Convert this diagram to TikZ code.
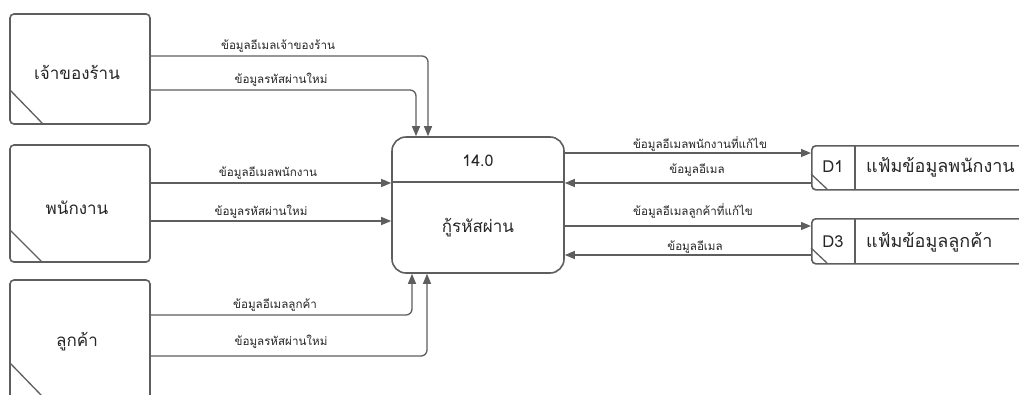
\documentclass[tikz,border=0pt]{standalone}
\usepackage{fontspec}
\setmainfont[Script=Thai]{Loma}
\usetikzlibrary{arrows.meta,calc}
\definecolor{ln}{HTML}{5E5E5E}
\definecolor{tx}{HTML}{262626}
\tikzset{
  ent/.style={draw=ln,line width=1.6pt,rounded corners=4pt,minimum width=140pt,text=tx,inner sep=0pt},
  bigtxt/.style={text=tx,font=\fontsize{17}{20}\selectfont},
  store/.style={draw=ln,line width=1.6pt,rounded corners=4pt,text=tx,inner sep=0pt},
  flow/.style={draw=ln,line width=1.3pt,rounded corners=6pt,-{Triangle[length=10pt,width=8pt]}},
  lbl/.style={text=tx,font=\fontsize{11.6}{13}\selectfont,inner sep=0pt},
  corner/.style={draw=ln,line width=1.3pt},
}
\begin{document}
\begin{tikzpicture}[x=1pt,y=-1pt]
\useasboundingbox (0,0) rectangle (1019,394);
% external entities
\node[ent,minimum height=110pt] (e1) at (80,69) {};
\node[bigtxt] (t1) at (77,72) {เจ้าของร้าน};
\node[ent,minimum height=117pt] (e2) at (80,203.5) {};
\node[bigtxt] (t2) at (77,208) {พนักงาน};
\node[ent,minimum height=120pt] (e3) at (80,340) {};
\node[bigtxt] (t3) at (77,342) {ลูกค้า};
\coordinate (c1a) at (10,90); \coordinate (c1b) at (43,124);
\draw[corner] (c1a) -- (c1b);
\coordinate (c2a) at (10,230); \coordinate (c2b) at (42,262);
\draw[corner] (c2a) -- (c2b);
\coordinate (c3a) at (10,363); \coordinate (c3b) at (42,396);
\draw[corner] (c3a) -- (c3b);
% process
\node[draw=ln,line width=1.6pt,rounded corners=14pt,minimum width=172pt,minimum height=136pt,inner sep=0pt] (p) at (478,205) {};
\coordinate (pdl) at (392,182); \coordinate (pdr) at (564,182);
\draw[ln,line width=1.4pt] (pdl) -- (pdr);
\node[text=tx,font=\fontsize{16}{19}\selectfont] (pid) at (478,161) {14.0};
\node[bigtxt] (pname) at (478,228) {กู้รหัสผ่าน};
% data stores
\node[store,minimum width=220pt,minimum height=44pt,anchor=north west] (d1) at (811,145) {};
\node[store,minimum width=220pt,minimum height=45pt,anchor=north west] (d3) at (811,218) {};
\coordinate (d1s) at (855,145); \coordinate (d1e) at (855,189);
\draw[ln,line width=1.4pt] (d1s) -- (d1e);
\coordinate (d3s) at (855,218); \coordinate (d3e) at (855,263);
\draw[ln,line width=1.4pt] (d3s) -- (d3e);
\coordinate (d1ca) at (811,174); \coordinate (d1cb) at (827,189);
\draw[corner] (d1ca) -- (d1cb);
\coordinate (d3ca) at (811,248); \coordinate (d3cb) at (827,263);
\draw[corner] (d3ca) -- (d3cb);
\node[text=tx,font=\fontsize{16.5}{19}\selectfont] (d1id) at (833,167) {D1};
\node[text=tx,font=\fontsize{18}{21}\selectfont,anchor=west,inner sep=0pt] (d1n) at (866,167) {แฟ้มข้อมูลพนักงาน};
\node[text=tx,font=\fontsize{16.5}{19}\selectfont] (d3id) at (833,242) {D3};
\node[text=tx,font=\fontsize{18}{21}\selectfont,anchor=west,inner sep=0pt] (d3n) at (866,242) {แฟ้มข้อมูลลูกค้า};
% flows: owner
\draw[flow] (e1.east |- 0,56) -| (p.north -| 428,0);
\draw[flow] (e1.east |- 0,90) -| (p.north -| 416,0);
\node[lbl] (l1) at (278,46) {ข้อมูลอีเมลเจ้าของร้าน};
\node[lbl] (l2) at (281,80) {ข้อมูลรหัสผ่านใหม่};
% flows: staff
\draw[flow] (e2.east |- 0,183) -- (p.west |- 0,183);
\draw[flow] (e2.east |- 0,221) -- (p.west |- 0,221);
\node[lbl] (l3) at (268,173) {ข้อมูลอีเมลพนักงาน};
\node[lbl] (l4) at (261,212) {ข้อมูลรหัสผ่านใหม่};
% flows: customer
\draw[flow] (e3.east |- 0,315) -| (p.south -| 412,0);
\draw[flow] (e3.east |- 0,356) -| (p.south -| 427,0);
\node[lbl] (l5) at (275,305) {ข้อมูลอีเมลลูกค้า};
\node[lbl] (l6) at (281,342) {ข้อมูลรหัสผ่านใหม่};
% flows: stores
\draw[flow] (p.east |- 0,153) -- (d1.west |- 0,153);
\draw[flow] (d1.west |- 0,183) -- (p.east |- 0,183);
\draw[flow] (p.east |- 0,226) -- (d3.west |- 0,226);
\draw[flow] (d3.west |- 0,255) -- (p.east |- 0,255);
\node[lbl] (l7) at (700,144) {ข้อมูลอีเมลพนักงานที่แก้ไข};
\node[lbl] (l8) at (697,170) {ข้อมูลอีเมล};
\node[lbl] (l9) at (693,211) {ข้อมูลอีเมลลูกค้าที่แก้ไข};
\node[lbl] (l10) at (695,247) {ข้อมูลอีเมล};
\end{tikzpicture}
\end{document}
